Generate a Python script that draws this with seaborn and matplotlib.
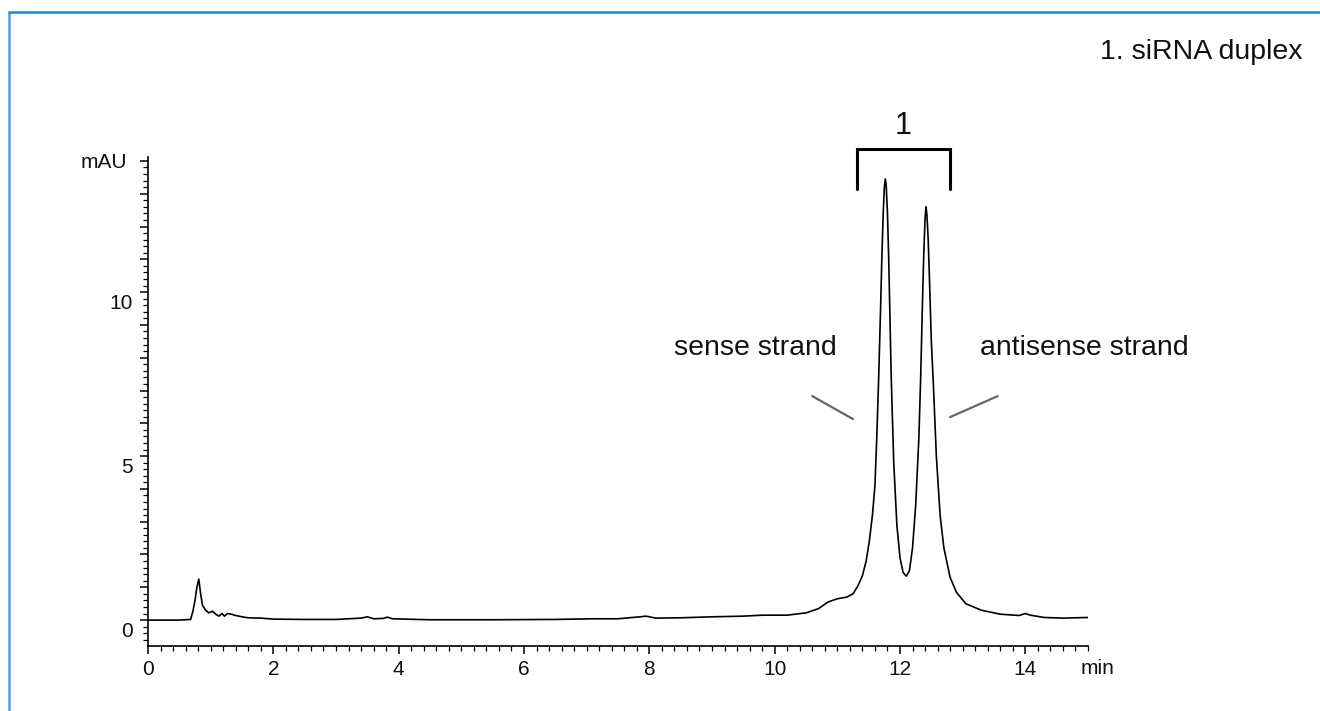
import numpy as np
import pandas as pd
import seaborn as sns
import matplotlib.pyplot as plt
from matplotlib.ticker import MultipleLocator, FuncFormatter
from matplotlib.lines import Line2D
import matplotlib.transforms as mtransforms

# Chromatogram trace (retention time in min, signal in mAU)
time_min = [0.0, 0.5, 0.68, 0.72, 0.75, 0.78, 0.81, 0.84, 0.87, 0.92, 0.97, 1.03,
            1.08, 1.13, 1.18, 1.22, 1.27, 1.33, 1.4, 1.5, 1.6, 1.8, 2.0, 2.5, 3.0,
            3.4, 3.5, 3.6, 3.75, 3.82, 3.9, 4.5, 5.5, 6.5, 7.1, 7.5, 7.85, 7.95,
            8.1, 8.5, 9.0, 9.5, 9.8, 10.2, 10.5, 10.7, 10.85, 11.0, 11.15, 11.25,
            11.33, 11.4, 11.46, 11.51, 11.56, 11.6, 11.63, 11.66, 11.69, 11.71,
            11.73, 11.75, 11.765, 11.78, 11.8, 11.82, 11.86, 11.9, 11.95, 12.0,
            12.05, 12.1, 12.15, 12.2, 12.25, 12.3, 12.33, 12.36, 12.38, 12.4,
            12.415, 12.43, 12.45, 12.47, 12.5, 12.53, 12.58, 12.64, 12.7, 12.8,
            12.9, 13.05, 13.3, 13.6, 13.9, 14.0, 14.08, 14.3, 14.6, 15.0]
signal_mau = [0.0, 0.0, 0.02, 0.3, 0.6, 1.0, 1.25, 0.8, 0.45, 0.3, 0.22, 0.27,
              0.18, 0.12, 0.2, 0.12, 0.2, 0.18, 0.14, 0.1, 0.07, 0.06, 0.03, 0.02, 0.02,
              0.06, 0.1, 0.04, 0.05, 0.09, 0.04, 0.01, 0.01, 0.02, 0.04, 0.04, 0.1, 0.12,
              0.06, 0.07, 0.1, 0.12, 0.15, 0.15, 0.22, 0.35, 0.55, 0.65, 0.7, 0.8,
              1.05, 1.35, 1.8, 2.4, 3.2, 4.1, 5.6, 7.4, 9.5, 11.0,
              12.3, 13.2, 13.45, 13.25, 12.4, 11.0, 7.4, 4.8, 2.9, 1.9,
              1.45, 1.34, 1.5, 2.2, 3.5, 5.5, 7.4, 9.8, 11.2, 12.25,
              12.6, 12.35, 11.6, 10.4, 8.5, 7.3, 5.0, 3.2, 2.2, 1.3,
              0.85, 0.5, 0.3, 0.18, 0.14, 0.2, 0.15, 0.08, 0.06, 0.08]

# Annotations
peak_group_label = "1"
peak_group_span = [11.31, 12.8]
legend_text = "1. siRNA duplex"
strand_labels = ["sense strand", "antisense strand"]

sns.set_theme(style="ticks")
plt.rcParams['font.family'] = ['Liberation Sans', 'DejaVu Sans']

df = pd.DataFrame({"time": time_min, "mAU": signal_mau})

fig = plt.figure(figsize=(13.2, 7.11), dpi=100)
ax = fig.add_axes([148 / 1320, 1 - 646 / 711, 940 / 1320, 489 / 711])

sns.lineplot(data=df, x="time", y="mAU", color="black", linewidth=1.2, ax=ax)

ax.set_xlim(0, 15)
ax.set_ylim(-0.79, 14.12)
ax.set_xlabel("")
ax.set_ylabel("")
sns.despine(ax=ax)
for side in ["left", "bottom"]:
    ax.spines[side].set_linewidth(1.2)
    ax.spines[side].set_color("black")

ax.xaxis.set_major_locator(MultipleLocator(2))
ax.xaxis.set_minor_locator(MultipleLocator(0.2))
ax.yaxis.set_major_locator(MultipleLocator(1))
ax.yaxis.set_minor_locator(MultipleLocator(0.2))
ax.yaxis.set_major_formatter(FuncFormatter(lambda v, p: f"{v:.0f}" if round(v) in (0, 5, 10) else ""))
ax.tick_params(axis="both", which="major", length=6, width=1.1, color="black",
               labelsize=15, labelcolor="#111111", direction="out")
ax.tick_params(axis="x", which="major", pad=4)
ax.tick_params(axis="y", which="major", pad=5)
ax.tick_params(axis="both", which="minor", length=3.5, width=0.9, color="black", direction="out")

# y labels sit a little below their ticks in the original
offset = mtransforms.ScaledTranslation(0, -0.09, fig.dpi_scale_trans)
for lab in ax.get_yticklabels():
    lab.set_transform(lab.get_transform() + offset)

fig.text(104 / 1320, 1 - 163 / 711, "mAU", fontsize=15, ha="center", va="center", color="#111111")
fig.text(1097 / 1320, 1 - 668 / 711, "min", fontsize=15, ha="center", va="center", color="#111111")
fig.text(1303 / 1320, 1 - 52 / 711, legend_text, fontsize=20.5, ha="right", va="center", color="#111111")

# bracket over the duplex peaks
x0, x1 = peak_group_span
ax.plot([x0, x0, x1, x1], [13.14, 14.36, 14.36, 13.14], color="black", linewidth=2.2,
        clip_on=False, solid_joinstyle="miter")
ax.text((x0 + x1) / 2, 15.05, peak_group_label, fontsize=22, ha="center", va="center", color="#111111")

# strand labels with leader lines
ax.text(9.69, 8.3, strand_labels[0], fontsize=20.5, ha="center", va="center", color="#111111")
ax.plot([10.6, 11.25], [6.83, 6.13], color="#666666", linewidth=1.6)
ax.text(14.94, 8.3, strand_labels[1], fontsize=20.5, ha="center", va="center", color="#111111")
ax.plot([12.8, 13.56], [6.19, 6.83], color="#666666", linewidth=1.6)

# blue frame along top and left edges
fig.add_artist(Line2D([9 / 1320, 9 / 1320], [0, 1 - 12 / 711], transform=fig.transFigure,
                      color="#4a9fe0", linewidth=1.8))
fig.add_artist(Line2D([9 / 1320, 1], [1 - 12 / 711, 1 - 12 / 711], transform=fig.transFigure,
                      color="#1f86d6", linewidth=1.8))

fig.savefig("out.png", dpi=100)
